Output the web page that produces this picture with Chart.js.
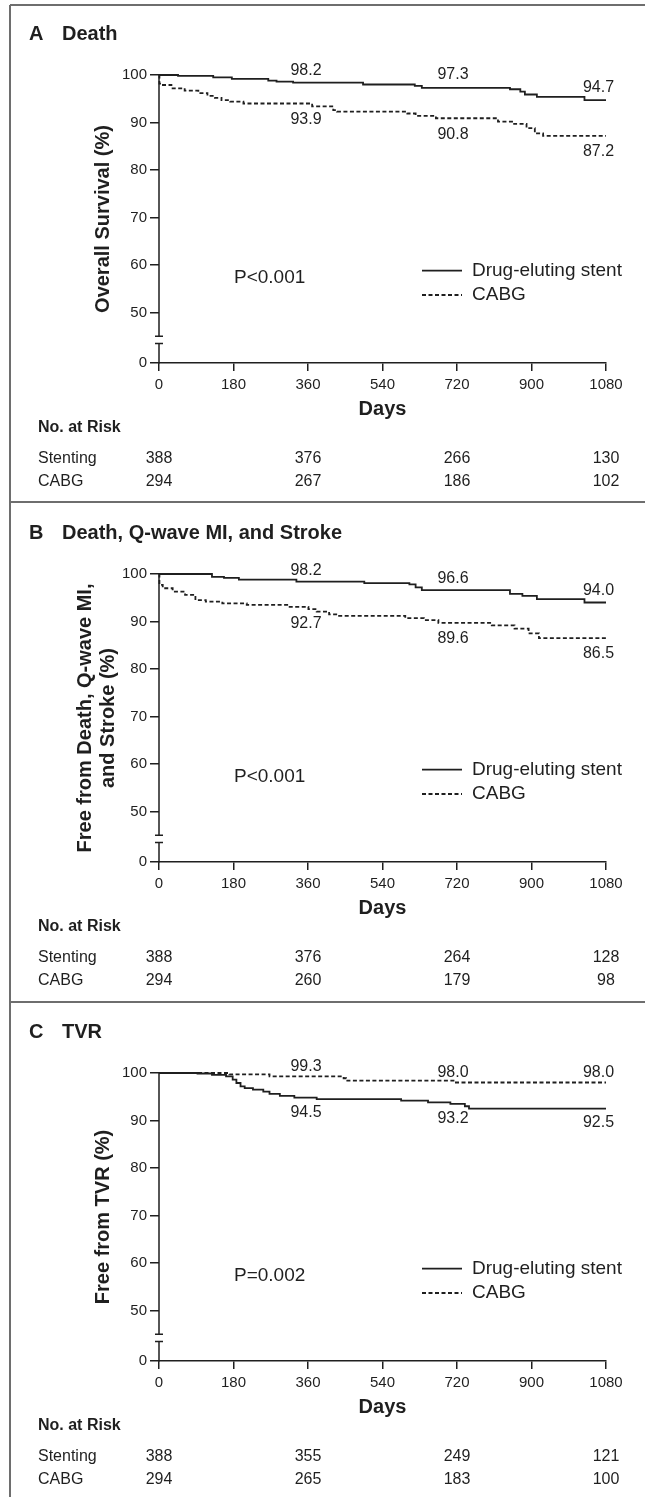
<!DOCTYPE html>
<html>
<head>
<meta charset="utf-8">
<script src="https://cdn.jsdelivr.net/npm/chart.js@4.4.0/dist/chart.umd.min.js"></script>
<style>
html,body{margin:0;padding:0;background:#fff;}
#page{position:relative;width:645px;height:1497px;overflow:hidden;background:#fff;}
.panel{position:absolute;left:0;width:645px;height:499px;}
</style>
</head>
<body>
<div id="page">
  <div class="panel" style="top:0px"><canvas id="cA"></canvas></div>
  <div class="panel" style="top:499px"><canvas id="cB"></canvas></div>
  <div class="panel" style="top:998px"><canvas id="cC"></canvas></div>
</div>
<script>
// ---------------- DATA ----------------
const seriesNames = ['Drug-eluting stent', 'CABG'];
const xTickValues = [0, 180, 360, 540, 720, 900, 1080];
const xTickLabels = ['0', '180', '360', '540', '720', '900', '1080'];
const yTickValues = [0, 50, 60, 70, 80, 90, 100];
const yTickLabels = ['0', '50', '60', '70', '80', '90', '100'];

const panelLetters = ['A', 'B', 'C'];
const panelTitles = ['Death', 'Death, Q-wave MI, and Stroke', 'TVR'];
const yAxisTitles = ['Overall Survival (%)', ['Free from Death, Q-wave MI,', 'and Stroke (%)'], 'Free from TVR (%)'];
const pValues = ['P<0.001', 'P<0.001', 'P=0.002'];

// Kaplan-Meier steps: [day, % event-free]
const stentA = [[0,100],[46,99.8],[131,99.5],[176,99.2],[264,98.8],[284,98.6],[324,98.4],[493,98.0],[618,97.7],[635,97.3],[848,97.0],[873,96.5],[884,95.9],[913,95.4],[1028,94.7],[1080,94.7]];
const cabgA  = [[0,100],[1,98.2],[6,97.9],[30,97.2],[62,96.7],[95,96.2],[117,95.6],[135,95.2],[151,94.7],[172,94.4],[204,94.0],[370,93.4],[421,92.6],[430,92.3],[600,91.9],[620,91.4],[669,90.9],[819,90.2],[858,89.7],[888,88.8],[908,87.7],[928,87.2],[1080,87.2]];
const stentB = [[0,100],[128,99.4],[157,99.2],[193,98.8],[332,98.4],[496,98.1],[605,97.8],[620,97.2],[635,96.6],[848,95.8],[878,95.4],[913,94.7],[1028,94.0],[1080,94.0]];
const cabgB  = [[0,100],[1,97.7],[9,97.0],[33,96.3],[63,95.6],[88,94.5],[113,94.2],[153,93.8],[212,93.5],[312,93.1],[361,92.6],[381,92.1],[411,91.5],[431,91.2],[595,90.7],[640,90.3],[675,89.7],[804,89.2],[859,88.5],[893,87.5],[918,86.5],[1080,86.5]];
const stentC = [[0,100],[93,99.9],[128,99.6],[162,99.3],[178,98.6],[187,97.9],[197,97.2],[207,96.8],[227,96.5],[252,96.1],[267,95.6],[292,95.2],[327,94.8],[381,94.5],[585,94.2],[650,93.8],[704,93.5],[739,93.0],[749,92.5],[1080,92.5]];
const cabgC  = [[0,100],[170,99.7],[267,99.3],[446,98.9],[452,98.4],[714,98.0],[1080,98.0]];

// Labelled estimates at 1, 2, 3 years
const annotDays = [360, 720, 1080];
const annotStentA = [98.2, 97.3, 94.7];
const annotCabgA  = [93.9, 90.8, 87.2];
const annotStentB = [98.2, 96.6, 94.0];
const annotCabgB  = [92.7, 89.6, 86.5];
const annotStentC = [94.5, 93.2, 92.5];
const annotCabgC  = [99.3, 98.0, 98.0];

// Numbers at risk
const riskDays = [0, 360, 720, 1080];
const riskStentA = [388, 376, 266, 130];
const riskCabgA  = [294, 267, 186, 102];
const riskStentB = [388, 376, 264, 128];
const riskCabgB  = [294, 260, 179, 98];
const riskStentC = [388, 355, 249, 121];
const riskCabgC  = [294, 265, 183, 100];
const riskRowNames = ['Stenting', 'CABG'];

// ---------------- RENDER ----------------
const FONT = "'Liberation Sans', Arial, Helvetica, sans-serif";
const INK = '#1f1f1f';
const FRAME = '#6e6e6e';

// broken y axis: 0..50 compressed below the break
function axisValue(v) { return v >= 50 ? v : 50 - (50 - v) * 0.2126; }
const breakTrue = [26.5, 19.2];

const style = {
  annotDx: [-2, -4, -7.5],
};

const panels = [
  { id: 'cA', frameTop: 5, frameLeftTop: 5, stent: stentA, cabg: cabgA, aS: annotStentA, aC: annotCabgA, rS: riskStentA, rC: riskCabgA, dy: [-13, 16], yPad: 91.5 },
  { id: 'cB', frameTop: 3, frameLeftTop: 0, stent: stentB, cabg: cabgB, aS: annotStentB, aC: annotCabgB, rS: riskStentB, rC: riskCabgB, dy: [-12, 15], yPad: 73.5 },
  { id: 'cC', frameTop: 4, frameLeftTop: 0, stent: stentC, cabg: cabgC, aS: annotStentC, aC: annotCabgC, rS: riskStentC, rC: riskCabgC, dy: [-10, 13.5], yPad: 91.5 },
];

function toXY(pairs) { return pairs.map(p => ({ x: p[0], y: axisValue(p[1]) })); }

panels.forEach((cfg, pi) => {
  const decor = {
    id: 'decor' + pi,
    afterDraw(chart) {
      const { ctx, chartArea: ca, scales: { x, y } } = chart;
      ctx.save();
      // frame
      ctx.strokeStyle = FRAME; ctx.lineWidth = 2; ctx.setLineDash([]);
      ctx.beginPath();
      ctx.moveTo(10, cfg.frameTop); ctx.lineTo(chart.width, cfg.frameTop);
      ctx.moveTo(10, cfg.frameLeftTop); ctx.lineTo(10, chart.height);
      ctx.stroke();

      // y axis line with break
      const ax = x.getPixelForValue(0);
      const yTop = y.getPixelForValue(100);
      const yb1 = y.getPixelForValue(axisValue(breakTrue[0]));
      const yb2 = y.getPixelForValue(axisValue(breakTrue[1]));
      const yBot = y.getPixelForValue(axisValue(0));
      ctx.strokeStyle = INK; ctx.lineWidth = 1.5;
      ctx.beginPath();
      ctx.moveTo(ax, yTop); ctx.lineTo(ax, yb1);
      ctx.moveTo(ax, yb2); ctx.lineTo(ax, yBot + 0.75);
      ctx.moveTo(ax - 4, yb1); ctx.lineTo(ax + 4, yb1);
      ctx.moveTo(ax - 4, yb2); ctx.lineTo(ax + 4, yb2);
      ctx.stroke();

      ctx.fillStyle = INK;
      // panel title
      ctx.font = 'bold 20px ' + FONT;
      ctx.textAlign = 'left'; ctx.textBaseline = 'middle';
      ctx.fillText(panelLetters[pi], 29, 34);
      ctx.fillText(panelTitles[pi], 62, 34);

      // P value
      ctx.font = '19px ' + FONT;
      ctx.fillText(pValues[pi], ca.left + 75, ca.top + 203);

      // legend
      const ds = chart.data.datasets;
      ds.forEach((d, i) => {
        const ly = ca.top + 195.7 + i * 24.3;
        ctx.strokeStyle = d.borderColor; ctx.lineWidth = d.borderWidth;
        ctx.setLineDash(d.borderDash || []);
        ctx.beginPath(); ctx.moveTo(ca.left + 263, ly); ctx.lineTo(ca.left + 303, ly); ctx.stroke();
        ctx.setLineDash([]);
        ctx.fillText(d.label, ca.left + 313, ly);
      });

      // annotations
      ctx.font = '16px ' + FONT; ctx.textAlign = 'center';
      annotDays.forEach((d, i) => {
        const s = cfg.aS[i], c = cfg.aC[i];
        const up = Math.max(s, c), lo = Math.min(s, c);
        const px = x.getPixelForValue(d) + style.annotDx[i];
        ctx.fillText(up.toFixed(1), px, y.getPixelForValue(axisValue(up)) + cfg.dy[0]);
        ctx.fillText(lo.toFixed(1), px, y.getPixelForValue(axisValue(lo)) + cfg.dy[1]);
      });

      // numbers at risk
      ctx.textAlign = 'left';
      ctx.font = 'bold 16px ' + FONT;
      ctx.fillText('No. at Risk', 38, ca.bottom + 65);
      ctx.font = '16px ' + FONT;
      const rows = [cfg.rS, cfg.rC];
      rows.forEach((r, ri) => {
        const ry = ca.bottom + 95.3 + ri * 23.7;
        ctx.textAlign = 'left';
        ctx.fillText(riskRowNames[ri], 38, ry);
        ctx.textAlign = 'center';
        riskDays.forEach((d, k) => ctx.fillText(String(r[k]), x.getPixelForValue(d), ry));
      });
      ctx.restore();
    }
  };

  new Chart(document.getElementById(cfg.id), {
    type: 'line',
    data: {
      datasets: [
        { label: seriesNames[0], data: toXY(cfg.stent), borderColor: INK, borderWidth: 1.8, borderDash: [], stepped: true, pointRadius: 0, fill: false, clip: false },
        { label: seriesNames[1], data: toXY(cfg.cabg), borderColor: INK, borderWidth: 1.8, borderDash: [4, 2.5], stepped: true, pointRadius: 0, fill: false, clip: false },
      ]
    },
    options: {
      responsive: true, maintainAspectRatio: false, animation: false, devicePixelRatio: 1,
      layout: { padding: { top: 75, right: 39, bottom: 0, left: 0 } },
      plugins: { legend: { display: false }, tooltip: { enabled: false }, title: { display: false } },
      scales: {
        x: {
          type: 'linear', min: 0, max: 1080,
          afterBuildTicks: s => { s.ticks = xTickValues.map(v => ({ value: v })); },
          afterFit: s => { s.height = 136; },
          ticks: { font: { family: FONT, size: 15 }, color: INK, padding: 5, maxRotation: 0, autoSkip: false, callback: (v, i) => xTickLabels[i] },
          grid: { drawOnChartArea: false, drawTicks: true, tickLength: 8, color: INK, lineWidth: 1.5 },
          border: { display: true, color: INK, width: 1.5 },
          title: { display: true, text: 'Days', color: INK, font: { family: FONT, size: 20, weight: 'bold', lineHeight: 1.15 }, padding: { top: 0, bottom: 78.5 } }
        },
        y: {
          type: 'linear', min: axisValue(0), max: 100,
          afterBuildTicks: s => { s.ticks = yTickValues.map(v => ({ value: axisValue(v) })); },
          afterFit: s => { s.width = 159; },
          ticks: { font: { family: FONT, size: 15 }, color: INK, padding: 3, autoSkip: false, callback: (v, i) => yTickLabels[i] },
          grid: { drawOnChartArea: false, drawTicks: true, tickLength: 9, color: INK, lineWidth: 1.5 },
          border: { display: false },
          title: { display: true, text: yAxisTitles[pi], color: INK, font: { family: FONT, size: 20, weight: 'bold', lineHeight: 1.15 }, padding: { top: cfg.yPad, bottom: 0 } }
        }
      }
    },
    plugins: [decor]
  });
});
</script>
</body>
</html>
